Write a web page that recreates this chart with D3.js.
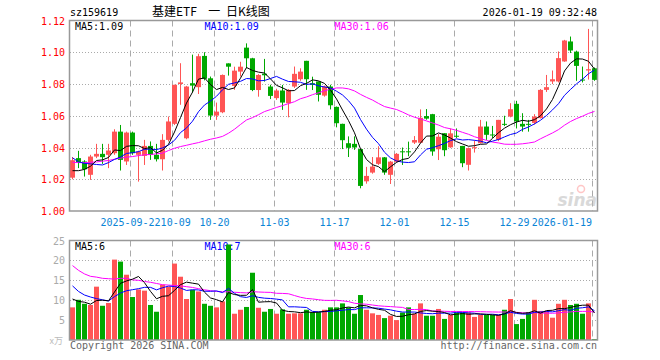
<!DOCTYPE html>
<html>
<head>
<meta charset="utf-8">
<script src="https://cdn.jsdelivr.net/npm/d3@7"></script>
<style>
  body { margin: 0; background: #fff; }
  svg { display: block; }
</style>
</head>
<body>
<svg id="chart"></svg>
<script>
// daily bars, 2025-09-08 .. 2026-01-19 (88 trading days)
const tickIndex = [10, 17, 24, 34, 44, 54, 64, 74, 87];
const tickLabels = ["2025-09-22", "10-09", "10-20", "11-03", "11-17", "12-01", "12-15", "12-29", "2026-01-19"];

const opens = [
  1.021, 1.0333, 1.0312, 1.0228, 1.0343, 1.036, 1.0354, 1.0364, 1.050, 1.0312,
  1.0494, 1.0354, 1.0347, 1.041, 1.0354, 1.0326, 1.0448, 1.0549, 1.080, 1.0458,
  1.0805, 1.078, 1.0977, 1.0836, 1.0601, 1.0622, 1.093, 1.0788, 1.0878, 1.1029,
  1.0962, 1.0762, 1.0865, 1.0784, 1.0711, 1.0759, 1.0679, 1.0784, 1.083, 1.0946,
  1.0805, 1.0816, 1.0727, 1.0784, 1.0656, 1.0549, 1.0427, 1.0423, 1.039, 1.0187,
  1.0242, 1.0297, 1.0338, 1.0228, 1.031, 1.0376, 1.0376, 1.0431, 1.043, 1.0598,
  1.061, 1.0389, 1.049, 1.0401, 1.0474, 1.041, 1.0291, 1.0398, 1.0427, 1.0532,
  1.0482, 1.0448, 1.0549, 1.0595, 1.0675, 1.0549, 1.0549, 1.0555, 1.0585, 1.0763,
  1.0816, 1.0816, 1.0942, 1.1068, 1.1004, 1.0828, 1.0885, 1.0899
];
const highs = [
  1.034, 1.0379, 1.032, 1.0354, 1.0423, 1.0423, 1.0423, 1.0515, 1.0542, 1.050,
  1.050, 1.038, 1.0448, 1.0438, 1.0423, 1.0484, 1.0595, 1.0795, 1.0931, 1.0788,
  1.0985, 1.099, 1.100, 1.0847, 1.0683, 1.086, 1.093, 1.0909, 1.094, 1.1056,
  1.0965, 1.0862, 1.0958, 1.0795, 1.077, 1.0794, 1.0768, 1.091, 1.0899, 1.0946,
  1.0846, 1.0816, 1.079, 1.0795, 1.0658, 1.055, 1.047, 1.047, 1.0392, 1.0278,
  1.034, 1.0408, 1.034, 1.0315, 1.0365, 1.040, 1.0437, 1.0472, 1.064, 1.0642,
  1.0612, 1.0485, 1.049, 1.052, 1.052, 1.041, 1.040, 1.0444, 1.0574, 1.0564,
  1.0536, 1.0574, 1.060, 1.0679, 1.0694, 1.0616, 1.0574, 1.061, 1.0768, 1.0857,
  1.0885, 1.1005, 1.1078, 1.1099, 1.101, 1.091, 1.1147, 1.0904
];
const lows = [
  1.020, 1.027, 1.0217, 1.0196, 1.0333, 1.0297, 1.027, 1.0354, 1.0255, 1.029,
  1.0354, 1.0185, 1.029, 1.0322, 1.0312, 1.0255, 1.0438, 1.0542, 1.0669, 1.0452,
  1.0745, 1.0737, 1.0823, 1.0574, 1.0574, 1.0616, 1.0853, 1.0763, 1.0847, 1.0899,
  1.0755, 1.072, 1.0815, 1.0705, 1.070, 1.0637, 1.059, 1.0775, 1.082, 1.0763,
  1.0762, 1.069, 1.072, 1.064, 1.0527, 1.039, 1.034, 1.0385, 1.0143, 1.0172,
  1.0235, 1.029, 1.0228, 1.017, 1.0305, 1.029, 1.0345, 1.0422, 1.0428, 1.0575,
  1.0348, 1.0321, 1.0345, 1.0398, 1.046, 1.0276, 1.0255, 1.0368, 1.0425, 1.0448,
  1.046, 1.044, 1.0535, 1.059, 1.052, 1.050, 1.050, 1.0545, 1.0583, 1.075,
  1.080, 1.081, 1.094, 1.0995, 1.082, 1.081, 1.0828, 1.082
];
const closes = [
  1.032, 1.0305, 1.0263, 1.0343, 1.036, 1.0339, 1.0381, 1.050, 1.0322, 1.0494,
  1.0364, 1.0375, 1.041, 1.0354, 1.0326, 1.0448, 1.0564, 1.0795, 1.081, 1.0784,
  1.079, 1.0975, 1.0833, 1.0601, 1.0626, 1.0857, 1.0909, 1.0884, 1.0909, 1.0962,
  1.0762, 1.0857, 1.0855, 1.0725, 1.0759, 1.0683, 1.0763, 1.0864, 1.0878, 1.083,
  1.0795, 1.0732, 1.0784, 1.0666, 1.0553, 1.0446, 1.0398, 1.040, 1.0158, 1.0221,
  1.028, 1.0338, 1.0242, 1.0311, 1.036, 1.0372, 1.0372, 1.0447, 1.0587, 1.0582,
  1.0375, 1.0468, 1.0383, 1.0489, 1.047, 1.0301, 1.0396, 1.0402, 1.0532, 1.048,
  1.0478, 1.0574, 1.0545, 1.0641, 1.0564, 1.0532, 1.0545, 1.0595, 1.0763, 1.078,
  1.083, 1.0963, 1.1074, 1.1011, 1.0914, 1.0824, 1.0893, 1.0826
];
// volume, 万手
const volumes = [
  8.2, 10.1, 9.1, 8.8, 13.4, 8.6, 9.3, 20.2, 19.7, 16.4,
  10.8, 12.7, 12.4, 8.8, 7.1, 13.9, 13.4, 19.2, 15.9, 10.3,
  12.6, 12.2, 9.1, 8.6, 8.2, 9.7, 24.0, 6.6, 7.6, 8.3,
  16.9, 8.1, 7.1, 7.8, 6.6, 7.7, 6.6, 6.7, 6.7, 7.6,
  7.0, 7.0, 7.6, 8.2, 8.2, 9.2, 8.2, 6.6, 11.3, 7.6,
  6.7, 6.3, 5.5, 6.1, 5.0, 6.9, 8.2, 6.6, 9.2, 6.1,
  6.1, 7.8, 5.3, 6.3, 6.9, 6.9, 6.9, 5.8, 6.3, 6.3,
  6.3, 6.3, 7.6, 10.3, 4.0, 5.3, 7.0, 10.1, 7.3, 7.3,
  5.6, 9.1, 10.1, 8.8, 9.1, 6.6, 9.2, 0.25
];

// moving-average values before the window fills (they use days left of the chart)
const priceMa5Head = [1.0254, 1.0254, 1.0262, 1.0282];
const priceMa10Head = [1.0335, 1.031, 1.030, 1.0297, 1.0293, 1.029, 1.0305, 1.0325, 1.034];
const priceMa30Head = [
  1.0307, 1.0305, 1.0305, 1.0307, 1.0309, 1.0314, 1.0318, 1.0326, 1.0333, 1.0339,
  1.0343, 1.0349, 1.0354, 1.0356, 1.036, 1.0364, 1.0381, 1.0395, 1.0406, 1.0414,
  1.0423, 1.0431, 1.0442, 1.0452, 1.046, 1.047, 1.049, 1.0515, 1.0545
];
const volMa5Head = [10.3, 9.7, 9.5, 9.0];
const volMa10Head = [13.6, 12.2, 11.3, 10.8, 10.4, 10.1, 9.8, 10.9, 11.8];
const volMa30Head = [
  18.7, 17.5, 16.6, 16.0, 15.8, 15.5, 15.4, 15.3, 15.5, 15.5,
  15.1, 15.0, 14.7, 14.5, 14.2, 13.9, 13.8, 13.7, 13.6, 13.4,
  13.2, 12.9, 12.6, 12.4, 12.2, 12.1, 12.1, 12.0, 11.9
];

const priceTicks = [1.00, 1.02, 1.04, 1.06, 1.08, 1.10, 1.12];
const volTicks = [5, 10, 15, 20, 25];

const width = 660, height = 360;
const left = 70, right = 597;
const pTop = 20.5, pBottom = 211;
const vTop = 240.5, vBottom = 340;
const UP = "#ff5555", DOWN = "#00a800";
const MONO = "'DejaVu Sans Mono', 'Liberation Mono', monospace";

function movingAvg(values, n, head) {
  return values.map(function(v, i) {
    return i < n - 1 ? head[i] : d3.mean(values.slice(i - n + 1, i + 1));
  });
}

const idx = d3.range(closes.length);
const x = d3.scaleBand().domain(idx).range([left, right]).paddingInner(1 / 6).paddingOuter(0);
const yP = d3.scaleLinear().domain([1.00, 1.12]).range([pBottom, pTop]);
const yV = d3.scaleLinear().domain([0, 25]).range([vBottom, vTop]);

const svg = d3.select("#chart").attr("width", width).attr("height", height)
  .style("font-family", MONO);

function crisp(v) { return Math.round(v) + 0.5; }

// dotted horizontal grid
svg.append("g").selectAll("line")
  .data(priceTicks.slice(1, -1))
  .join("line")
  .attr("x1", left).attr("x2", right + 0.5)
  .attr("y1", d => crisp(yP(d))).attr("y2", d => crisp(yP(d)))
  .attr("stroke", "#aaa").attr("stroke-dasharray", "1,2");
svg.append("g").selectAll("line")
  .data(volTicks.slice(0, -1))
  .join("line")
  .attr("x1", left).attr("x2", right + 0.5)
  .attr("y1", d => crisp(yV(d))).attr("y2", d => crisp(yV(d)))
  .attr("stroke", "#aaa").attr("stroke-dasharray", "1,2");

// dashed vertical grid at the labelled dates
[[pTop, pBottom], [vTop, vBottom]].forEach(function(r) {
  svg.append("g").selectAll("line")
    .data(tickIndex)
    .join("line")
    .attr("x1", d => x(d) + 0.5).attr("x2", d => x(d) + 0.5)
    .attr("y1", r[0]).attr("y2", r[1])
    .attr("stroke", "#aaa").attr("stroke-dasharray", "6,4");
});

// sina watermark
const mark = svg.append("g").attr("opacity", 0.55);
mark.append("text").attr("x", 597).attr("y", 206).attr("text-anchor", "end")
  .style("font-family", "'DejaVu Sans', sans-serif").style("font-style", "italic")
  .style("font-weight", "bold").style("font-size", "17px").attr("fill", "#bbb").text("sina");
mark.append("circle").attr("cx", 581).attr("cy", 189).attr("r", 3.5)
  .attr("fill", "none").attr("stroke", "#f99").attr("stroke-width", 1.5);

// legends sit under the marks, as in the original
const legends = [
  { x: 75, y: 30, color: "#000", text: "MA5:1.09" },
  { x: 204.5, y: 30, color: "#0000ff", text: "MA10:1.09" },
  { x: 334.5, y: 30, color: "#ff00ff", text: "MA30:1.06" },
  { x: 75, y: 249.5, color: "#000", text: "MA5:6" },
  { x: 204.5, y: 249.5, color: "#0000ff", text: "MA10:7" },
  { x: 334.5, y: 249.5, color: "#ff00ff", text: "MA30:6" }
];
svg.append("g").selectAll("text").data(legends).join("text")
  .attr("x", d => d.x).attr("y", d => d.y).attr("fill", d => d.color)
  .style("font-size", "10px").text(d => d.text);

// candles
const candles = svg.append("g").selectAll("g").data(idx).join("g");
candles.append("line")
  .attr("x1", i => x(i) + 2.5).attr("x2", i => x(i) + 2.5)
  .attr("y1", i => yP(highs[i])).attr("y2", i => yP(lows[i]))
  .attr("stroke", i => closes[i] >= opens[i] ? UP : DOWN);
candles.append("rect")
  .attr("x", i => x(i)).attr("width", x.bandwidth())
  .attr("y", i => yP(Math.max(opens[i], closes[i])))
  .attr("height", i => Math.max(1, Math.abs(yP(opens[i]) - yP(closes[i]))))
  .attr("fill", i => closes[i] >= opens[i] ? UP : DOWN);

// volume bars
svg.append("g").selectAll("rect").data(idx).join("rect")
  .attr("x", i => x(i)).attr("width", x.bandwidth())
  .attr("y", i => yV(volumes[i]))
  .attr("height", i => vBottom - yV(volumes[i]))
  .attr("fill", i => closes[i] >= opens[i] ? UP : DOWN);

// moving averages
const maSpecs = [
  { n: 30, color: "#ff00ff", p: priceMa30Head, v: volMa30Head },
  { n: 10, color: "#0000ff", p: priceMa10Head, v: volMa10Head },
  { n: 5, color: "#000000", p: priceMa5Head, v: volMa5Head }
];
maSpecs.forEach(function(s) {
  const pm = movingAvg(closes, s.n, s.p);
  const vm = movingAvg(volumes, s.n, s.v);
  svg.append("path").datum(pm)
    .attr("d", d3.line().x((d, i) => x(i) + 2.5).y(d => yP(d)))
    .attr("fill", "none").attr("stroke", s.color).attr("stroke-width", 1);
  svg.append("path").datum(vm)
    .attr("d", d3.line().x((d, i) => x(i) + 2.5).y(d => yV(d)))
    .attr("fill", "none").attr("stroke", s.color).attr("stroke-width", 1);
});

// panel frames
[[pTop, pBottom], [vTop, vBottom]].forEach(function(r) {
  svg.append("rect")
    .attr("x", left - 0.5).attr("y", r[0])
    .attr("width", right - left + 1).attr("height", r[1] - r[0])
    .attr("fill", "none").attr("stroke", "#999").attr("stroke-width", 1.5);
});

// axis labels
svg.append("g").selectAll("text").data(priceTicks).join("text")
  .attr("x", 65).attr("y", d => yP(d) + 4)
  .attr("text-anchor", "end").attr("fill", "#f00")
  .style("font-size", "10px").text(d => d.toFixed(2));
svg.append("g").selectAll("text").data(volTicks).join("text")
  .attr("x", 65).attr("y", d => yV(d) + 4)
  .attr("text-anchor", "end").attr("fill", "#aaa")
  .style("font-size", "10px").text(d => d);
svg.append("text").attr("x", 63).attr("y", 344).attr("text-anchor", "end")
  .attr("fill", "#bbb").style("font-size", "9px")
  .style("font-family", "'Noto Sans CJK SC', sans-serif").text("x万");

// date labels: centred on their gridline, pushed right when they would collide,
// the last one kept inside the frame
const dateLabels = svg.append("g").selectAll("text").data(tickIndex).join("text")
  .attr("y", 226).attr("fill", "#0a84d6").style("font-size", "10px")
  .text((d, k) => tickLabels[k]);
let prevEnd = -Infinity;
dateLabels.each(function(d, k) {
  const w = this.getComputedTextLength();
  let start = x(d) + 0.5 - w / 2;
  if (k === tickIndex.length - 1) start = x(d) - w;
  if (start < prevEnd) start = prevEnd;
  d3.select(this).attr("x", start);
  prevEnd = start + w;
});

// headings
svg.append("text").attr("x", 70).attr("y", 16).attr("fill", "#000")
  .style("font-size", "10px").text("sz159619");
svg.append("text").attr("x", 152).attr("y", 16)
  .attr("xml:space", "preserve").style("white-space", "pre")
  .style("word-spacing", "3px")
  .attr("fill", "#000").style("font-size", "12px")
  .style("font-family", "'Noto Sans CJK SC', sans-serif").text("基建ETF  一 日K线图");
svg.append("text").attr("x", 597).attr("y", 16).attr("text-anchor", "end")
  .attr("fill", "#000").style("font-size", "10px").text("2026-01-19 09:32:48");

svg.append("text").attr("x", 70).attr("y", 349).attr("fill", "#666")
  .style("font-size", "10px").text("Copyright 2026 SINA.COM");
svg.append("text").attr("x", 597).attr("y", 349).attr("text-anchor", "end")
  .attr("fill", "#666").style("font-size", "10px").text("http://finance.sina.com.cn");
</script>
</body>
</html>
